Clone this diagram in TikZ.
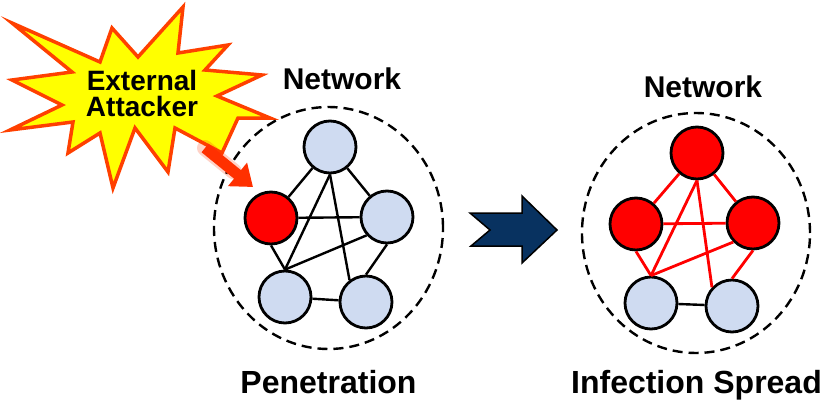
\documentclass[tikz,border=0pt]{standalone}
\usepackage{fontspec}
\setmainfont{Liberation Sans}
\usetikzlibrary{arrows.meta,calc}
\definecolor{hostblue}{RGB}{207,219,241}
\definecolor{burstfill}{RGB}{255,255,0}
\definecolor{burstedge}{RGB}{255,64,0}
\definecolor{hitred}{RGB}{255,48,0}
\definecolor{flownavy}{RGB}{8,50,96}
\begin{document}
\begin{tikzpicture}[x=1pt,y=-1pt,
  host/.style={circle, draw=black, line width=2.8pt, minimum size=52pt, inner sep=0pt, fill=hostblue},
  infected/.style={host, fill=red},
  link/.style={line width=2.4pt, draw=black},
  redlink/.style={line width=2.8pt, draw=red},
  zone/.style={draw=black, line width=2.4pt, dash pattern=on 10pt off 6pt},
  caption/.style={font=\bfseries\fontsize{32}{36}\selectfont, anchor=base, inner sep=0pt},
  nettitle/.style={font=\bfseries\fontsize{30}{34}\selectfont, anchor=base, inner sep=0pt},
  burstlabel/.style={font=\bfseries\fontsize{28}{30}\selectfont, anchor=base, inner sep=0pt}]
\useasboundingbox (0,0) rectangle (825,404);

% ---- starburst for the attacker ----
\draw[line width=3.5pt, draw=burstedge, fill=burstfill, line join=miter]
  (12,23) -- (100,62) -- (112,28) -- (138,57) -- (183,7) -- (178,53)
  -- (228,45) -- (205,70) -- (262,75) -- (217,96) -- (270,118) -- (238,118)
  -- (222,153) -- (175,128) -- (168,172) -- (135,128) -- (113,188) -- (100,133)
  -- (68,153) -- (73,122) -- (10,130) -- (62,105) -- (12,80) -- (72,72) -- cycle;
\node[burstlabel] (ext) at (142,91) {External};
\node[burstlabel] (att) at (142,117) {Attacker};

% ---- left network: penetration ----
\draw[zone] (328.5,228) ellipse [x radius=114.5pt, y radius=121pt];
\node[nettitle] (netA) at (342,90) {Network};
\node[caption] (penet) at (328.5,393) {Penetration};

\node[host]     (at)  at (330,147) {};
\node[infected] (al)  at (271,218) {};
\node[host]     (ar)  at (387,217) {};
\node[host]     (abl) at (285,297) {};
\node[host]     (abr) at (366,302) {};

\draw[link] (at) -- (al);
\draw[link] (at) -- (ar);
\draw[link] (at.south) -- (abl.north);
\draw[link] (at.south) -- (abr.127);
\draw[link] (al) -- (ar);
\draw[link] (al.south) -- (abl.north);
\draw[link] (ar.222) -- (abl.north);
\draw[link] (ar.south) -- (abr.north);
\draw[link] (abl) -- (abr);

% entry arrow from the attacker
\coordinate (hitfrom) at (205,148);
\coordinate (hitto) at (253,187);
\draw[line width=16pt, draw=hitred, opacity=0.22, line cap=round] (hitfrom) -- ($(hitfrom)!0.6!(hitto)$);
\draw[-{Triangle[length=20pt,width=29pt]}, line width=11pt, draw=hitred, fill=hitred] (hitfrom) -- (hitto);

% ---- transition arrow ----
\draw[line width=1.5pt, draw=black, fill=flownavy, line join=miter]
  (470,213) -- (522,213) -- (522,196) -- (557,230) -- (522,263)
  -- (522,246) -- (471,246) -- (490,230) -- cycle;

% ---- right network: infection spread ----
\draw[zone] (696,233) ellipse [x radius=114pt, y radius=120pt];
\node[nettitle] (netB) at (703,97) {Network};
\node[caption] (spread) at (696.5,393) {Infection Spread};

\node[infected] (bt)  at (697,153) {};
\node[infected] (bl)  at (636,224) {};
\node[infected] (br)  at (753,223) {};
\node[host]     (bbl) at (651,303) {};
\node[host]     (bbr) at (732,306) {};

\draw[redlink] (bt) -- (bl);
\draw[redlink] (bt) -- (br);
\draw[redlink] (bt.south) -- (bbl.north);
\draw[redlink] (bt.south) -- (bbr.137);
\draw[redlink] (bl) -- (br);
\draw[redlink] (bl.south) -- (bbl.north);
\draw[redlink] (br.224) -- (bbl.north);
\draw[redlink] (br.south) -- (bbr.north);
\draw[link] (bbl) -- (bbr);
\end{tikzpicture}
\end{document}
